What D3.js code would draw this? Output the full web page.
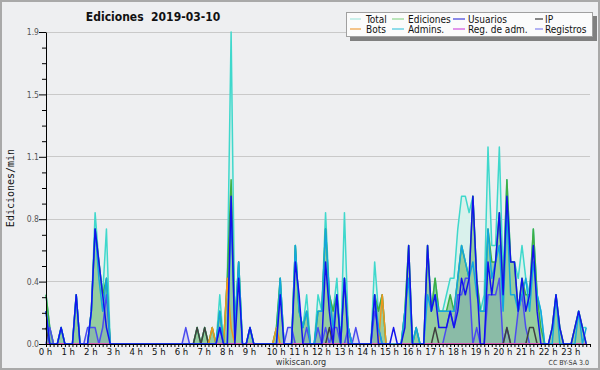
<!DOCTYPE html>
<html><head><meta charset="utf-8">
<script src="https://cdn.jsdelivr.net/npm/d3@7"></script>
<style>
html,body{margin:0;padding:0;background:#eeeff1;}
svg{display:block;}
</style></head><body>
<svg id="c" width="600" height="370"></svg>
<script>
// ---- data: edits per 10-minute slot, 2019-03-10 (144 slots, 00:00 .. 23:50) ----
const hourLabels = ["0 h","1 h","2 h","3 h","4 h","5 h","6 h","7 h","8 h","9 h","10 h","11 h",
  "12 h","13 h","14 h","15 h","16 h","17 h","18 h","19 h","20 h","21 h","22 h","23 h"];
const yTickValues = [0, 0.38, 0.76, 1.14, 1.52, 1.9];
const yTickLabels = ["0.0","0.4","0.8","1.1","1.5","1.9"];

const total = [
 3,1,0,0,1,0, 0,0,3,0,0,0, 2,8,5,3,7,0, 0,0,0,0,0,0, 0,0,0,0,0,0, 0,0,0,0,0,0,
 0,0,0,0,1,0, 1,0,1,0,3,0, 4,19,1,5,0,0, 1,0,0,0,0,0, 0,1,4,0,0,0, 6,2,1,3,0,0,
 3,2,8,3,2,4, 0,8,1,0,0,0, 0,0,0,5,2,3, 0,0,0,0,0,2, 6,0,1,0,0,6, 2,4,2,2,3,4,
 4,7,9,9,8,9, 4,2,3,12,6,6, 12,4,10,5,5,4, 6,4,3,7,3,2, 0,0,1,3,1,0, 0,0,1,2,1,1];
const edits = [
 3,1,0,0,1,0, 0,0,3,0,0,0, 2,7,5,3,4,0, 0,0,0,0,0,0, 0,0,0,0,0,0, 0,0,0,0,0,0,
 0,0,0,0,1,0, 1,0,1,0,2,0, 4,10,1,5,0,0, 1,0,0,0,0,0, 0,1,4,0,0,0, 6,2,1,2,0,0,
 2,2,7,3,2,3, 0,4,1,0,0,0, 0,0,0,3,2,3, 0,0,0,0,0,2, 6,0,1,0,0,6, 2,4,2,2,2,3,
 2,4,6,5,4,9, 4,2,2,7,5,5, 8,3,10,5,5,2, 4,3,3,7,3,1, 0,0,1,3,1,0, 0,0,1,2,1,0];
const users = [
 2,0,0,0,1,0, 0,0,3,0,0,0, 2,7,5,3,1,0, 0,0,0,0,0,0, 0,0,0,0,0,0, 0,0,0,0,0,0,
 0,0,0,0,0,0, 0,0,0,0,1,0, 0,9,0,4,0,0, 1,0,0,0,0,0, 0,0,3,0,0,0, 5,3,0,0,0,0,
 0,0,5,2,0,3, 0,4,0,0,0,0, 0,0,0,3,0,0, 0,0,1,0,0,1, 6,0,0,0,0,6, 2,3,1,1,1,2,
 1,2,4,3,4,9, 4,0,0,5,3,5, 8,3,9,5,5,2, 4,2,3,6,2,0, 0,0,1,3,1,0, 0,0,1,2,1,0];
const ip = [
 1,0,0,0,0,0, 0,0,0,0,0,0, 0,0,0,0,0,0, 0,0,0,0,0,0, 0,0,0,0,0,0, 0,0,0,0,0,0,
 0,0,0,0,1,0, 1,0,0,0,0,0, 0,0,0,0,0,0, 0,0,0,0,0,0, 0,0,0,0,0,0, 0,0,0,0,0,0,
 0,0,0,1,0,0, 0,0,0,0,0,0, 0,0,0,0,0,0, 0,0,0,0,0,0, 0,0,0,0,0,0, 0,1,0,0,0,0,
 0,0,0,0,0,0, 0,0,0,0,0,0, 0,0,1,0,0,0, 0,0,1,1,0,0, 0,0,0,0,0,0, 0,0,0,0,0,0];
const bots = [
 0,0,0,0,0,0, 0,0,0,0,0,0, 0,0,0,0,0,0, 0,0,0,0,0,0, 0,0,0,0,0,0, 0,0,0,0,0,0,
 0,0,0,0,0,0, 0,0,1,0,0,0, 4,1,0,0,0,0, 0,0,0,0,0,0, 0,1,0,0,0,0, 0,0,0,0,0,0,
 0,0,0,0,0,0, 0,0,0,0,0,0, 0,0,0,0,0,3, 0,0,0,0,0,0, 0,0,0,0,0,0, 0,0,0,0,0,0,
 0,0,0,0,0,0, 0,0,0,0,0,0, 0,0,0,0,0,0, 0,0,0,0,0,0, 0,0,0,0,0,0, 0,0,0,0,0,0];
const admins = [
 2,0,0,0,1,0, 0,0,3,0,0,0, 2,7,4,2,4,0, 0,0,0,0,0,0, 0,0,0,0,0,0, 0,0,0,0,0,0,
 0,0,0,0,0,0, 0,0,0,0,2,0, 0,8,1,5,0,0, 1,0,0,0,0,0, 0,0,4,0,0,0, 6,2,1,2,0,0,
 2,2,7,3,1,3, 0,4,1,0,0,0, 0,0,0,3,1,0, 0,0,0,0,0,2, 4,0,1,0,0,3, 2,3,2,2,2,2,
 2,4,6,5,4,5, 3,2,2,7,4,5, 6,2,8,3,3,2, 3,4,2,5,3,2, 0,0,0,3,0,0, 0,0,0,2,0,1];
const regAdm = [
 0,0,0,0,0,0, 0,0,0,0,0,0, 0,0,0,0,0,0, 0,0,0,0,0,0, 0,0,0,0,0,0, 0,0,0,0,0,0,
 0,0,0,0,0,0, 0,0,0,0,0,0, 0,0,0,0,0,0, 0,0,0,0,0,0, 0,0,0,0,0,0, 0,0,0,0,0,0,
 0,0,0,0,0,0, 0,0,0,0,0,0, 0,0,0,0,0,0, 0,0,0,0,0,0, 0,0,0,0,0,0, 0,0,0,0,0,0,
 0,0,0,0,0,0, 0,0,0,0,0,0, 0,0,0,0,0,0, 0,0,0,0,0,0, 0,0,0,0,0,0, 0,0,0,0,0,0];
const logs = [
 0,1,0,0,0,0, 0,0,0,0,0,1, 1,1,0,1,3,0, 0,0,0,0,0,0, 0,0,0,0,0,0, 0,0,0,0,0,0,
 0,1,0,0,0,0, 0,0,0,0,1,0, 0,0,0,0,0,0, 0,0,0,0,0,0, 0,0,0,0,1,1, 0,0,0,1,0,0,
 1,0,1,0,1,1, 0,0,1,0,1,0, 0,0,0,2,1,0, 0,0,0,0,0,0, 0,0,0,0,0,0, 0,0,0,0,1,2,
 1,3,3,4,4,0, 1,0,0,3,3,3, 4,0,1,0,0,2, 3,1,0,0,0,0, 0,0,0,0,0,0, 0,0,0,0,0,0];

const legendNames = ["Total","Ediciones","Usuarios","IP","Bots","Admins.","Reg. de adm.","Registros"];

// ---- drawing ----
const svg = d3.select('#c');
const FONT = "'DejaVu Sans Condensed','DejaVu Sans',sans-serif";
svg.append('rect').attr('x',1).attr('y',1).attr('width',598).attr('height',368)
  .attr('fill','#eeeff1').attr('stroke','#a9a9a9').attr('stroke-width',2);

const x = d3.scaleLinear().domain([0,1440]).range([46,590]);
const y = d3.scaleLinear().domain([0,1.9]).range([344,32]);
const slotMin = total.map((_,i)=>i*10);          // slot start in minutes
const rate = arr => arr.map(v => v/10);          // edits per minute

// grid
svg.append('g').selectAll('line').data(yTickValues.slice(1)).join('line')
  .attr('x1',46).attr('x2',590).attr('y1',d=>y(d)).attr('y2',d=>y(d))
  .attr('stroke','#c9c9c9').attr('stroke-width',1).attr('shape-rendering','crispEdges');

const area = d3.area().x((d,i)=>x(slotMin[i])).y0(y(0)).y1(d=>y(d));
const line = d3.line().x((d,i)=>x(slotMin[i])).y(d=>y(d));

svg.append('path').datum(rate(total)).attr('d',area).attr('fill','#d9f1ec');
svg.append('path').datum(rate(edits)).attr('d',area).attr('fill','#96cda0');
svg.append('path').datum(rate(logs)).attr('d',area).attr('fill','rgba(60,60,220,0.12)');

const lines = [
  [total,'#3fd8cc'],[edits,'#3fae44'],[logs,'#4c4cf0'],[ip,'#404040'],
  [bots,'#f0961e'],[regAdm,'#d040e0'],[admins,'#12a6e0'],[users,'#1212ee']
];
lines.forEach(([arr,col])=>{
  svg.append('path').datum(rate(arr)).attr('d',line).attr('fill','none')
    .attr('stroke',col).attr('stroke-width',1.5).attr('stroke-linejoin','round');
});

// y axis
const yAxis = svg.append('g').attr('transform','translate(46,0)')
  .call(d3.axisLeft(y).tickValues(yTickValues).tickFormat((d,i)=>yTickLabels[i])
        .tickSize(7).tickPadding(0).tickSizeOuter(0));
yAxis.select('.domain').attr('stroke','#000');
yAxis.selectAll('.tick line').attr('stroke','#000');
yAxis.selectAll('text').attr('font-family',FONT).attr('font-size','8.5px').attr('fill','#555').attr('dy','0.32em');
const yMinor = d3.range(0,20).map(k=>k*0.095).filter((d,k)=>k%4!==0);
svg.append('g').attr('transform','translate(46,0)')
  .call(d3.axisLeft(y).tickValues(yMinor).tickFormat('').tickSize(4).tickSizeOuter(0))
  .call(g=>g.select('.domain').remove()).selectAll('line').attr('stroke','#000');

// x axis
const xAxis = svg.append('g').attr('transform','translate(0,344)')
  .call(d3.axisBottom(x).tickValues(d3.range(0,1441,10)).tickFormat('').tickSize(3).tickSizeOuter(0));
xAxis.select('.domain').attr('stroke','#000');
xAxis.selectAll('line').attr('stroke','#000');
svg.append('g').selectAll('text').data(hourLabels).join('text')
  .attr('x',(d,i)=>x(i*60) + (d.length>3 ? 3.5 : -0.5)).attr('y',355)
  .attr('text-anchor','middle').attr('font-family',FONT).attr('font-size','9.5px').attr('fill','#111')
  .text(d=>d);

// title & labels
svg.append('text').attr('x',153).attr('y',21).attr('text-anchor','middle').style('white-space','pre')
  .attr('font-family',FONT).attr('font-weight','bold').attr('font-size','12px').attr('fill','#111')
  .text('Ediciones  2019-03-10');
svg.append('text').attr('transform','translate(13.5,188) rotate(-90)').attr('text-anchor','middle')
  .attr('font-family',"'DejaVu Sans Mono',monospace").attr('font-size','10px').attr('fill','#111')
  .text('Ediciones/min');
svg.append('text').attr('x',301).attr('y',365).attr('text-anchor','middle')
  .attr('font-family',FONT).attr('font-size','9px').attr('fill','#333').text('wikiscan.org');
svg.append('text').attr('x',589).attr('y',365).attr('text-anchor','end')
  .attr('font-family',FONT).attr('font-size','7px').attr('fill','#333').text('CC BY-SA 3.0');

// legend
const legendColors = ['#a8e8e0','#90d890','#4040dc','#3a3a3a','#f0a040','#48c8e0','#d050e0','#8484f0'];
const lg = svg.append('g');
lg.append('rect').attr('x',350).attr('y',16).attr('width',247).attr('height',25).attr('fill','#808080');
lg.append('rect').attr('x',346.5).attr('y',12.5).attr('width',246).attr('height',24)
  .attr('fill','#fbfbfb').attr('stroke','#a0a0a0');
const colText = [366,408,468,545];
const colSw = [[350,361],[392,404],[453,465],[535,543]];
const rowY = [19,29];
legendNames.forEach((n,k)=>{
  const c = k%4, r = Math.floor(k/4);
  lg.append('line').attr('x1',colSw[c][0]).attr('x2',colSw[c][1]).attr('y1',rowY[r]).attr('y2',rowY[r])
    .attr('stroke',legendColors[k]).attr('stroke-width',1.2);
  lg.append('text').attr('x',colText[c]).attr('y',rowY[r]).attr('dy','0.35em')
    .attr('font-family',FONT).attr('font-size','10px').attr('fill','#111').text(n);
});
</script>
</body></html>
